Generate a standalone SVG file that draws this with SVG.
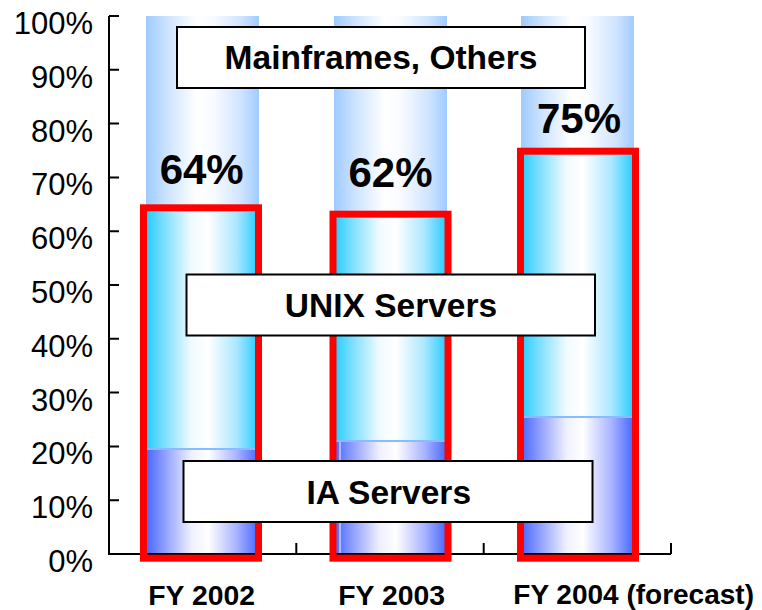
<svg xmlns="http://www.w3.org/2000/svg" width="762" height="610" viewBox="0 0 762 610">
  <defs>
    <linearGradient id="gradOther" x1="0" y1="0" x2="1" y2="0">
      <stop offset="0" stop-color="#9fcbff"/>
      <stop offset="0.2" stop-color="#cfe5ff"/>
      <stop offset="0.45" stop-color="#ffffff"/>
      <stop offset="0.6" stop-color="#f8fbff"/>
      <stop offset="0.85" stop-color="#cde3ff"/>
      <stop offset="1" stop-color="#9fcbff"/>
    </linearGradient>
    <linearGradient id="gradUnix" x1="0" y1="0" x2="1" y2="0">
      <stop offset="0" stop-color="#22ccff"/>
      <stop offset="0.15" stop-color="#77ddff"/>
      <stop offset="0.4" stop-color="#f0faff"/>
      <stop offset="0.55" stop-color="#ffffff"/>
      <stop offset="0.8" stop-color="#ace7ff"/>
      <stop offset="1" stop-color="#22ccff"/>
    </linearGradient>
    <linearGradient id="gradIA" x1="0" y1="0" x2="1" y2="0">
      <stop offset="0" stop-color="#4466ff"/>
      <stop offset="0.15" stop-color="#8899ff"/>
      <stop offset="0.4" stop-color="#eef0ff"/>
      <stop offset="0.55" stop-color="#ffffff"/>
      <stop offset="0.8" stop-color="#aab4ff"/>
      <stop offset="1" stop-color="#4466ff"/>
    </linearGradient>
  </defs>
  <style>
    .other { fill: url(#gradOther); }
    .unix { fill: url(#gradUnix); }
    .ia { fill: url(#gradIA); }
    .seam { stroke: #88bbff; stroke-width: 2; }
    .axis { stroke: #000; stroke-width: 2; fill: none; }
    .frame { fill: none; stroke: #ff0000; stroke-width: 7; }
    .box { fill: #fff; stroke: #000; stroke-width: 2; }
    .tick { font-family: "Liberation Sans", Arial, sans-serif; font-size: 31px; fill: #000; text-anchor: end; }
    .boxlabel { font-family: "Liberation Sans", Arial, sans-serif; font-size: 33.5px; font-weight: bold; fill: #000; text-anchor: middle; }
    .pct { font-family: "Liberation Sans", Arial, sans-serif; font-size: 42px; font-weight: bold; fill: #000; text-anchor: middle; }
    .cat { font-family: "Liberation Sans", Arial, sans-serif; font-size: 27px; font-weight: bold; fill: #000; }
  </style>

  <!-- stacked bars -->
  <g id="bar-fy2002">
    <rect class="other" x="146" y="16" width="113" height="538"/>
    <rect class="unix" x="146" y="211" width="113" height="238"/>
    <rect class="ia" x="146" y="449" width="113" height="105"/>
    <line class="seam" x1="146" y1="449" x2="259" y2="449"/>
  </g>
  <g id="bar-fy2003">
    <rect class="other" x="334" y="16" width="113" height="538"/>
    <rect class="unix" x="334" y="218" width="113" height="223"/>
    <rect class="ia" x="334" y="441" width="113" height="113"/>
    <line class="seam" x1="334" y1="441" x2="447" y2="441"/>
    <line x1="340" y1="442" x2="340" y2="554" stroke="#fff" stroke-width="1"/>
  </g>
  <g id="bar-fy2004">
    <rect class="other" x="521" y="16" width="113" height="538"/>
    <rect class="unix" x="521" y="154" width="113" height="263"/>
    <rect class="ia" x="521" y="417" width="113" height="137"/>
    <line class="seam" x1="521" y1="417" x2="634" y2="417"/>
  </g>

  <!-- axes -->
  <g id="axes">
    <path class="axis" d="M109,16 V554 H671"/>
    <path class="axis" d="M109,16 H119 M109,69.8 H119 M109,123.6 H119 M109,177.4 H119 M109,231.2 H119 M109,285 H119 M109,338.8 H119 M109,392.6 H119 M109,446.4 H119 M109,500.2 H119"/>
    <path class="axis" d="M296.3,554 V543 M483.7,554 V543 M671,554 V543"/>
    <text class="tick" x="93" y="34">100%</text>
    <text class="tick" x="93" y="87.8">90%</text>
    <text class="tick" x="93" y="141.6">80%</text>
    <text class="tick" x="93" y="195.4">70%</text>
    <text class="tick" x="93" y="249.2">60%</text>
    <text class="tick" x="93" y="303">50%</text>
    <text class="tick" x="93" y="356.8">40%</text>
    <text class="tick" x="93" y="410.6">30%</text>
    <text class="tick" x="93" y="464.4">20%</text>
    <text class="tick" x="93" y="518.2">10%</text>
    <text class="tick" x="93" y="572">0%</text>
  </g>

  <!-- red frames around the IA + UNIX share -->
  <g id="frames">
    <rect class="frame" x="143.5" y="207.8" width="115" height="350.4"/>
    <rect class="frame" x="333" y="214.2" width="115" height="344"/>
    <rect class="frame" x="520.5" y="151.2" width="115" height="407"/>
  </g>

  <!-- share labels -->
  <g id="shares">
    <text class="pct" x="201.7" y="183.7">64%</text>
    <text class="pct" x="390.5" y="186.7">62%</text>
    <text class="pct" x="579" y="132.7">75%</text>
  </g>

  <!-- series labels -->
  <g id="label-mainframes">
    <rect class="box" x="177" y="27" width="408" height="61"/>
    <text class="boxlabel" x="381" y="69.3">Mainframes, Others</text>
  </g>
  <g id="label-unix">
    <rect class="box" x="186.5" y="274.5" width="408.5" height="61"/>
    <text class="boxlabel" x="391" y="316.7">UNIX Servers</text>
  </g>
  <g id="label-ia">
    <rect class="box" x="183.5" y="461" width="409" height="61"/>
    <text class="boxlabel" x="388.8" y="504.3">IA Servers</text>
  </g>

  <!-- category labels -->
  <g id="categories">
    <text class="cat" x="148.3" y="604.5" textLength="106.7" lengthAdjust="spacingAndGlyphs">FY 2002</text>
    <text class="cat" x="338.3" y="604.5" textLength="106.7" lengthAdjust="spacingAndGlyphs">FY 2003</text>
    <text class="cat" x="513.3" y="603.5" textLength="240.7" lengthAdjust="spacingAndGlyphs">FY 2004 (forecast)</text>
  </g>
</svg>
